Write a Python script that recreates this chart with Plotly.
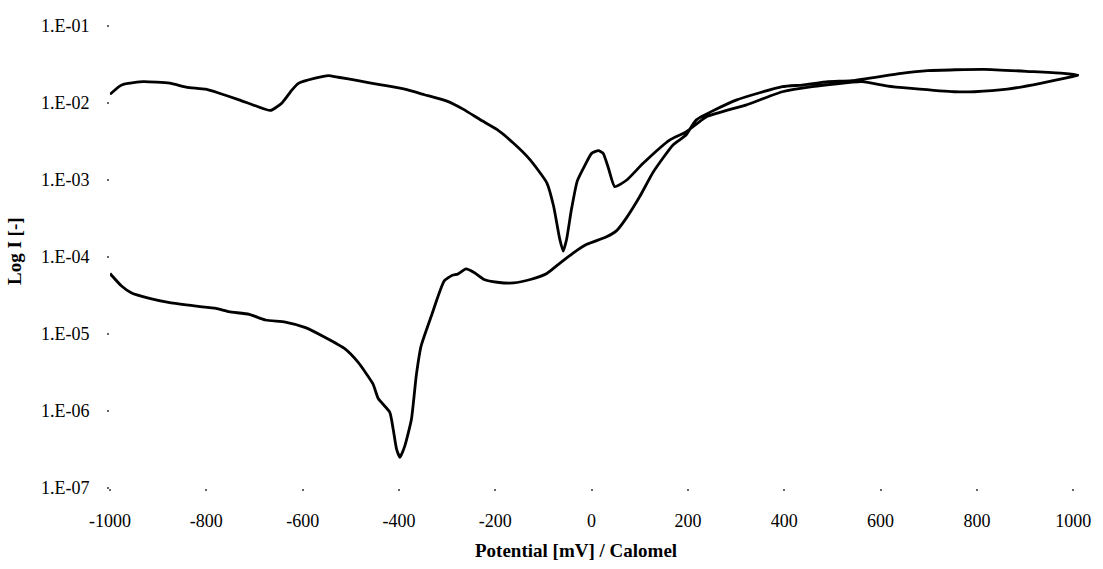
import plotly.graph_objects as go

# Cyclic polarization scan, forward sweep (-1000 mV -> +1011 mV)
forward_mv = [
    -1000, -976, -955, -918, -876, -821, -780, -753, -711, -677, -636, -594,
    -553, -512, -485, -454, -443, -419, -412, -405, -398, -388, -374, -364,
    -354, -333, -306, -289, -278, -261, -244, -223, -196, -162, -127, -93,
    -65, -37, -10, 31, 52, 72, 100, 128, 169, 196, 217, 300, 396, 437, 491,
    540, 643, 698, 815, 918, 980, 1011,
]
forward_i = [
    6.1e-5, 4.2e-5, 3.4e-5, 2.9e-5, 2.55e-5, 2.3e-5, 2.15e-5, 1.95e-5, 1.8e-5,
    1.52e-5, 1.43e-5, 1.21e-5, 9.0e-6, 6.4e-6, 4.3e-6, 2.25e-6, 1.45e-6,
    9.6e-7, 5.8e-7, 3.2e-7, 2.5e-7, 3.5e-7, 7.9e-7, 2.9e-6, 7.0e-6, 1.7e-5,
    4.9e-5, 5.8e-5, 6.0e-5, 7.0e-5, 6.3e-5, 5.1e-5, 4.7e-5, 4.6e-5, 5.1e-5,
    6.1e-5, 8.4e-5, 1.14e-4, 1.46e-4, 1.83e-4, 2.2e-4, 3.2e-4, 6.1e-4,
    1.27e-3, 2.85e-3, 3.84e-3, 6.0e-3, 1.09e-2, 1.63e-2, 1.71e-2, 1.89e-2,
    1.95e-2, 2.43e-2, 2.63e-2, 2.74e-2, 2.55e-2, 2.43e-2, 2.31e-2,
]

# Reverse sweep (+1011 mV -> -1000 mV)
reverse_mv = [
    1011, 986, 932, 863, 795, 753, 664, 615, 561, 458, 396, 320, 238, 196,
    162, 107, 73, 48, 35, 24, 14, 0, -17, -30, -42, -52, -59, -66, -79, -93,
    -128, -162, -196, -231, -265, -299, -347, -388, -437, -485, -526, -547,
    -574, -608, -622, -643, -667, -698, -732, -773, -801, -842, -876, -931,
    -969, -979, -1000,
]
reverse_i = [
    2.31e-2, 2.12e-2, 1.8e-2, 1.51e-2, 1.4e-2, 1.4e-2, 1.55e-2, 1.66e-2,
    1.89e-2, 1.63e-2, 1.4e-2, 9.4e-3, 6.6e-3, 4.2e-3, 3.3e-3, 1.65e-3,
    1.0e-3, 8.2e-4, 1.42e-3, 2.22e-3, 2.4e-3, 2.22e-3, 1.42e-3, 9.6e-4,
    4.1e-4, 1.69e-4, 1.19e-4, 1.69e-4, 4.6e-4, 9.2e-4, 1.84e-3, 3.0e-3,
    4.5e-3, 6.05e-3, 8.2e-3, 1.05e-2, 1.28e-2, 1.51e-2, 1.72e-2, 1.95e-2,
    2.16e-2, 2.27e-2, 2.1e-2, 1.81e-2, 1.48e-2, 1.0e-2, 8.0e-3, 9.2e-3,
    1.1e-2, 1.34e-2, 1.51e-2, 1.61e-2, 1.81e-2, 1.9e-2, 1.77e-2, 1.67e-2,
    1.3e-2,
]

x_ticks = [-1000, -800, -600, -400, -200, 0, 200, 400, 600, 800, 1000]
y_ticks = [1e-7, 1e-6, 1e-5, 1e-4, 1e-3, 1e-2, 1e-1]
y_tick_text = ["1.E-07", "1.E-06", "1.E-05", "1.E-04", "1.E-03", "1.E-02", "1.E-01"]

x_title = "Potential [mV] / Calomel"
y_title = "Log I [-]"

FONT = "Liberation Serif"

fig = go.Figure()
fig.add_trace(go.Scatter(
    x=forward_mv + reverse_mv[1:],
    y=forward_i + reverse_i[1:],
    mode="lines",
    line=dict(color="black", width=2.8, shape="spline", smoothing=0.5),
    showlegend=False,
    hoverinfo="skip",
))

fig.update_layout(
    width=1103,
    height=569,
    margin=dict(l=110, r=18, t=26, b=81),
    paper_bgcolor="white",
    plot_bgcolor="white",
    font=dict(family=FONT, size=18, color="black"),
    showlegend=False,
)

fig.update_xaxes(
    range=[-1000, 1012],
    tickvals=x_ticks,
    ticktext=[str(v) for v in x_ticks],
    showgrid=False,
    zeroline=False,
    showline=False,
    ticks="outside",
    ticklen=2,
    tickwidth=1.5,
    tickcolor="#666",
    ticklabelstandoff=14,
    tickfont=dict(family=FONT, size=18, color="black"),
)

fig.update_yaxes(
    type="log",
    range=[-7, -1],
    tickvals=y_ticks,
    ticktext=y_tick_text,
    showgrid=False,
    zeroline=False,
    showline=False,
    ticks="outside",
    ticklen=2,
    tickwidth=1.5,
    tickcolor="#666",
    ticklabelstandoff=14,
    tickfont=dict(family=FONT, size=18, color="black"),
)

# Axis titles
fig.add_annotation(
    text=f"<b>{x_title}</b>", xref="paper", yref="paper",
    x=0.481, y=0, xanchor="center", yanchor="middle", yshift=-62,
    showarrow=False, font=dict(family=FONT, size=19, color="black"),
)
fig.add_annotation(
    text=f"<b>{y_title}</b>", xref="paper", yref="paper",
    x=0, y=0.513, xanchor="center", yanchor="middle", xshift=-95,
    textangle=-90, showarrow=False,
    font=dict(family=FONT, size=19, color="black"),
)

fig.write_html("out.html")
